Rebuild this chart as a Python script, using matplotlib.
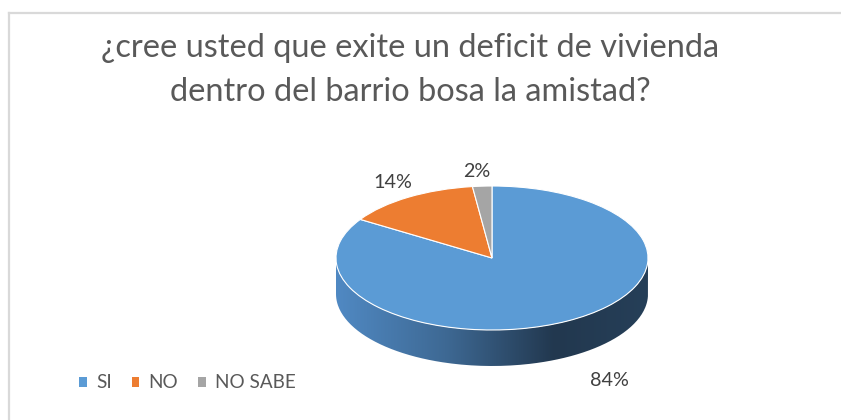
import numpy as np
import matplotlib
matplotlib.use("Agg")
import matplotlib.pyplot as plt
from matplotlib.path import Path
from matplotlib.patches import PathPatch
from matplotlib.colors import LinearSegmentedColormap

# ---- data ----
title = "¿cree usted que exite un deficit de vivienda\ndentro del barrio bosa la amistad?"
categories = ["SI", "NO", "NO SABE"]
values = [84, 14, 2]
labels_pct = ["84%", "14%", "2%"]
colors = ["#5B9BD5", "#ED7D31", "#A5A5A5"]

W, H = 841, 420
fig = plt.figure(figsize=(W / 100, H / 100), dpi=100)
fig.patch.set_facecolor("white")

# pie geometry in pixels
cx, cy, rx, ry, depth = 492, 258, 156, 72, 36

ax = fig.add_axes([0, 0, 1, 1])

FONT = "Lato"

# side of the 3D pie (front half of the blue slice)
d = depth / ry
t = np.linspace(np.pi, 2 * np.pi, 200)
top = np.column_stack([np.cos(t), np.sin(t)])
bot = np.column_stack([np.cos(t[::-1]), np.sin(t[::-1]) - d])
verts = np.vstack([top, bot, top[:1]])
side_path = Path(verts)
side = PathPatch(side_path, facecolor="none", edgecolor="none", zorder=1)
ax.add_patch(side)
cmap = LinearSegmentedColormap.from_list(
    "side", [(0.0, "#5089C3"), (0.35, "#3E6994"), (0.7, "#22384F"), (1.0, "#263F58")])
grad = np.linspace(0, 1, 256).reshape(1, -1)
im = ax.imshow(grad, cmap=cmap, extent=[-1, 1, -1 - d, 0], aspect="auto",
               zorder=1, interpolation="bicubic")
im.set_clip_path(side)

# top face
wedges, _ = ax.pie(values, colors=colors, startangle=90, counterclock=False,
                   radius=1, center=(0, 0), frame=True,
                   wedgeprops=dict(edgecolor="white", linewidth=0.8))
for w in wedges:
    w.set_zorder(2)
ax.set_aspect("auto")
ax.set_xlim(-cx / rx, (W - cx) / rx)
ax.set_ylim((cy - H) / ry, cy / ry)
ax.axis("off")

# data labels (pixel positions converted to data coords)
def px(x, y):
    return ((x - cx) / rx, (cy - y) / ry)

label_pos = [(609, 380), (393, 182), (477, 171)]
for lab, (x, y) in zip(labels_pct, label_pos):
    ax.text(*px(x, y), lab, ha="center", va="center", fontsize=14.2,
            color="#404040", family=FONT, zorder=5)

# title
fig.text(410 / W, 1 - 48 / H, title.split("\n")[0], ha="center", va="center",
         fontsize=23.4, color="#595959", family=FONT)
fig.text(410 / W, 1 - 92 / H, title.split("\n")[1], ha="center", va="center",
         fontsize=23.4, color="#595959", family=FONT)

# legend
leg = fig.legend(wedges, categories, loc="center left",
                 bbox_to_anchor=(79 / W, 1 - 383 / H), ncol=3, frameon=False,
                 handlelength=0.4, handleheight=0.4, handletextpad=0.5,
                 columnspacing=1.05, borderpad=0, borderaxespad=0,
                 prop=dict(family=FONT, size=13.6))
for t_ in leg.get_texts():
    t_.set_color("#595959")
for h in leg.legend_handles:
    h.set_edgecolor("none")

# chart border (top and left edges visible)
fig.add_artist(plt.Line2D([8.5 / W, 1], [1 - 12.5 / H, 1 - 12.5 / H],
                          transform=fig.transFigure, color="#D9D9D9", lw=1.6))
fig.add_artist(plt.Line2D([8.5 / W, 8.5 / W], [0, 1 - 12.5 / H],
                          transform=fig.transFigure, color="#D9D9D9", lw=1.6))

fig.savefig("out.png", dpi=100, facecolor="white")
